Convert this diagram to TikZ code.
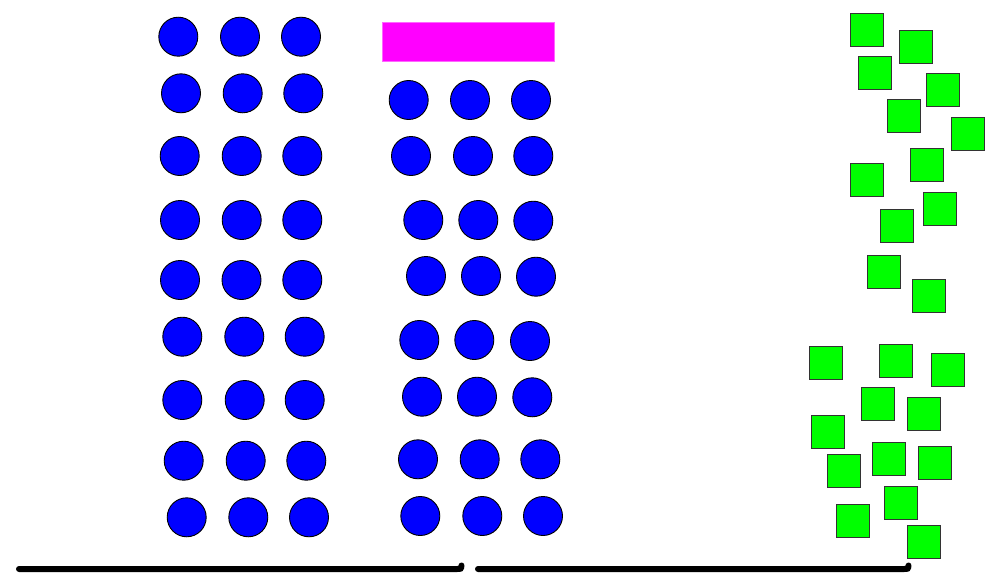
\documentclass[tikz,border=0pt]{standalone}
\definecolor{deskpink}{RGB}{255,0,255}
\definecolor{seatblue}{RGB}{0,0,255}
\definecolor{boxgreen}{RGB}{0,255,0}
\begin{document}
\begin{tikzpicture}[x=1pt,y=-1pt,
  seat/.style={circle,draw=black,line width=0.9pt,fill=seatblue,minimum size=39pt,inner sep=0pt},
  box/.style={rectangle,draw=black!80,line width=1pt,fill=boxgreen,minimum size=33pt,inner sep=0pt},
  desk/.style={rectangle,fill=deskpink,draw=deskpink!60,line width=0.5pt,minimum width=172pt,minimum height=39pt,inner sep=0pt},
  wall/.style={line width=6pt,line cap=round,black}]
\useasboundingbox (0,0) rectangle (993,573);
% left block of seats
\foreach \i/\x/\y in {
 1/178.3/36.7, 2/240/36.7, 3/301/36.7,
 4/181/93.3, 5/242.7/93.3, 6/303.3/93.3,
 7/179.7/156, 8/241.7/156, 9/302.3/156,
 10/180/220, 11/241.7/220, 12/302.3/220,
 13/180/280, 14/241.5/280, 15/302.3/280,
 16/182.3/336.7, 17/244.3/336.7, 18/304.7/336.7,
 19/182.3/400, 20/244.7/400, 21/304.7/400,
 22/183.7/460.7, 23/245.7/460.7, 24/306.3/460.7,
 25/186.7/517.3, 26/248.3/517.3, 27/309/517.3}
 \node[seat] (L\i) at (\x,\y) {};
% desk
\node[desk] (desk) at (468,41.5) {};
% middle block of seats
\foreach \i/\x/\y in {
 1/408.7/100, 2/470/100, 3/531/100,
 4/411/156, 5/473/156, 6/533.3/156,
 7/423.3/220, 8/478.3/220, 9/533.3/220.7,
 10/426/276, 11/481/276, 12/536/276.7,
 13/419.3/340, 14/474.3/340, 15/530/341,
 16/422/396.7, 17/477/396.7, 18/532.3/397.3,
 19/418/459.3, 20/479.7/459.3, 21/540.3/459.3,
 22/420.3/516, 23/482.3/516, 24/543/516}
 \node[seat] (M\i) at (\x,\y) {};
% green boxes
\foreach \i/\x/\y in {
 1/867.3/29.5, 2/916/47, 3/875.3/72.7, 4/942.7/90,
 5/903.7/115.7, 6/968/134.3, 7/926.7/165.3, 8/867.3/180.3,
 9/940/208.7, 10/897/226, 11/883.7/271.7, 12/929.3/296,
 13/825.7/363.3, 14/895.7/360.5, 15/948/370, 16/878/403.5,
 17/923.7/414.3, 18/828.3/431.8, 19/888.7/458.7, 20/934.7/462.7,
 21/844.3/470.8, 22/900.8/503, 23/852.7/520.7, 24/923.7/542.3}
 \node[box] (G\i) at (\x,\y) {};
% walls
\coordinate (w1a) at (19,569);
\coordinate (w1b) at (457,569);
\coordinate (w1c) at (461.5,565.5);
\coordinate (w2a) at (478,569);
\coordinate (w2b) at (904,569);
\coordinate (w2c) at (908.5,565.5);
\draw[wall] (w1a) -- (w1b) .. controls (461,569) .. (w1c);
\draw[wall] (w2a) -- (w2b) .. controls (908,569) .. (w2c);
\end{tikzpicture}
\end{document}
